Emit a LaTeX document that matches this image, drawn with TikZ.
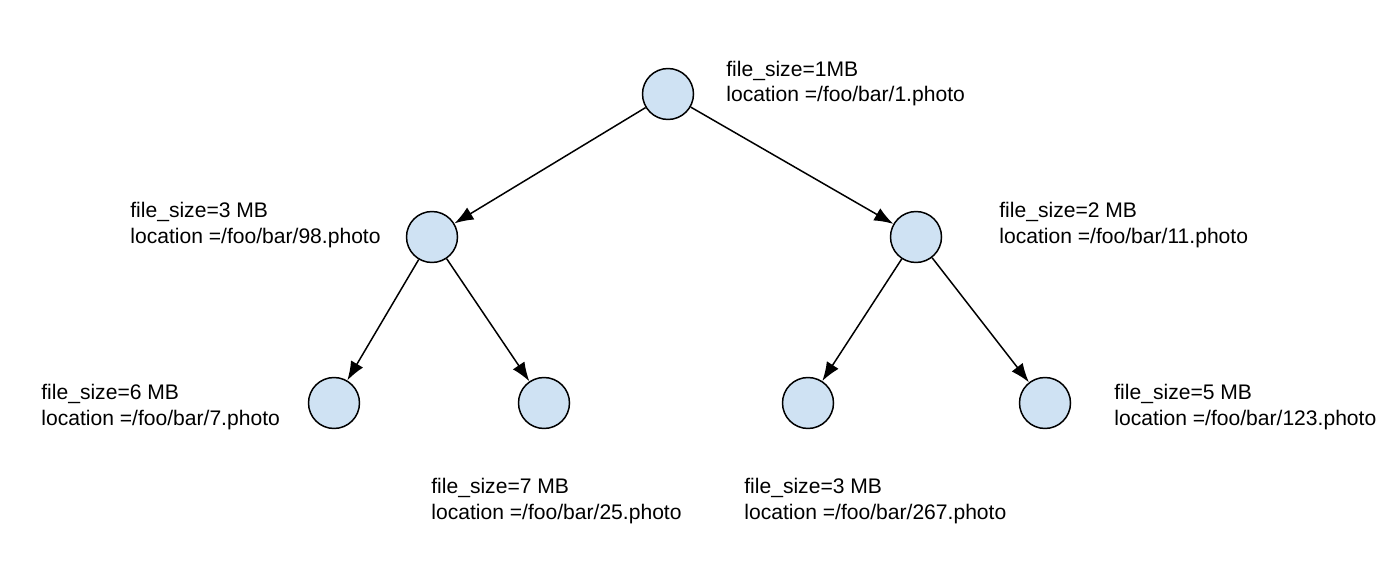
\documentclass[tikz,border=0pt]{standalone}
\usepackage{fontspec}
\setmainfont{Liberation Sans}
\usetikzlibrary{arrows.meta}
\definecolor{nodeblue}{HTML}{CFE2F3}
\tikzset{
	treenode/.style={circle,draw=black,line width=0.85pt,fill=nodeblue,minimum size=1.02cm,inner sep=0pt},
	infotext/.style={anchor=west,align=left,inner sep=0pt,font=\fontsize{12}{14.7}\selectfont},
	treearrow/.style={-{Latex[length=0.38cm,width=0.28cm]},line width=0.85pt}
}
\begin{document}
\begin{tikzpicture}[x=0.02cm,y=-0.02cm]
			\useasboundingbox[fill=white] (0,0) rectangle (1400,564);
			\node[treenode] (root) at (668,94) {};
			\node[treenode] (l) at (432,237) {};
			\node[treenode] (r) at (916,237) {};
			\node[treenode] (ll) at (334,403) {};
			\node[treenode] (lr) at (544,403) {};
			\node[treenode] (rl) at (808,403) {};
			\node[treenode] (rr) at (1045,403) {};
			\draw[treearrow] (root) -- (l);
			\draw[treearrow] (root) -- (r);
			\draw[treearrow] (l) -- (ll);
			\draw[treearrow] (l) -- (lr);
			\draw[treearrow] (r) -- (rl);
			\draw[treearrow] (r) -- (rr);
			% labels
			\node[infotext] (root-info) at (726,83.5) {file\_size=1MB\\location =/foo/bar/1.photo};
			\node[infotext] (l-info) at (130,225) {file\_size=3 MB\\location =/foo/bar/98.photo};
			\node[infotext] (r-info) at (999,225) {file\_size=2 MB\\location =/foo/bar/11.photo};
			\node[infotext] (ll-info) at (41,407) {file\_size=6 MB\\location =/foo/bar/7.photo};
			\node[infotext] (rr-info) at (1114,407) {file\_size=5 MB\\location =/foo/bar/123.photo};
			\node[infotext] (lr-info) at (431,501) {file\_size=7 MB\\location =/foo/bar/25.photo};
			\node[infotext] (rl-info) at (744,501) {file\_size=3 MB\\location =/foo/bar/267.photo};
		\end{tikzpicture}
\end{document}
